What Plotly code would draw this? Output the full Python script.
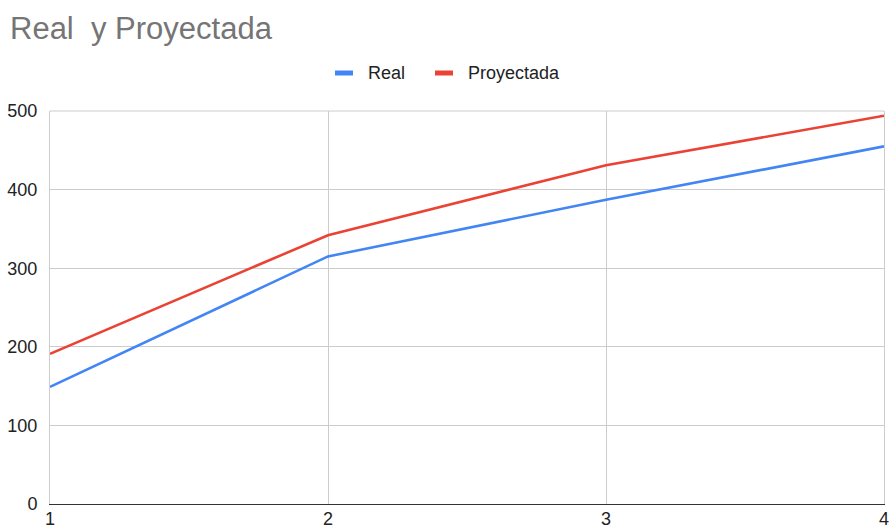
import plotly.graph_objects as go

# Series data
x_vals = [1, 2, 3, 4]
real = [149, 315, 387, 455]
proyectada = [191, 342, 431, 494]

y_ticks = [0, 100, 200, 300, 400, 500]
series_names = ["Real", "Proyectada"]

BLUE = "#4285F4"
RED = "#EA4335"
FONT = "Liberation Sans, Arial, sans-serif"

# Plot area in pixels (used to place the legend swatches in paper units)
L, R, T, B = 50, 5, 111, 25
W, H = 889, 529
PW, PH = W - L - R, H - T - B


def px_x(px):
    return (px - L) / PW


def px_y(py):
    return (H - B - py) / PH


fig = go.Figure()
fig.add_trace(go.Scatter(x=x_vals, y=real, name=series_names[0], mode="lines",
                         line=dict(color=BLUE, width=2.6)))
fig.add_trace(go.Scatter(x=x_vals, y=proyectada, name=series_names[1], mode="lines",
                         line=dict(color=RED, width=2.6)))

# Custom legend: short thick swatches followed by labels
legend_items = [(series_names[0], BLUE, 335, 366), (series_names[1], RED, 435, 466)]
for name, color, sx, tx in legend_items:
    fig.add_shape(type="rect", xref="paper", yref="paper",
                  x0=px_x(sx), x1=px_x(sx + 18), y0=px_y(75.5), y1=px_y(70.5),
                  fillcolor=color, line=dict(width=0))
    fig.add_annotation(text=name, xref="paper", yref="paper",
                       x=px_x(tx), y=px_y(73), xanchor="left", yanchor="middle",
                       showarrow=False, font=dict(family=FONT, size=18, color="#222222"))

# Top border of the plot area
fig.add_shape(type="line", xref="paper", yref="paper", x0=0, x1=1, y0=1, y1=1,
              line=dict(color="#cccccc", width=1))

fig.update_layout(
    width=W, height=H,
    margin=dict(l=L, r=R, t=T, b=B),
    paper_bgcolor="white", plot_bgcolor="white",
    font=dict(family=FONT, color="#222222"),
    title=dict(text="Real&nbsp;&nbsp;y Proyectada", x=0, xref="container", xanchor="left",
               y=1 - 28 / H, yref="container", yanchor="middle", pad=dict(l=10),
               font=dict(family=FONT, size=31, color="#757575"),
               automargin=False),
    showlegend=False,
)
fig.update_xaxes(range=[1, 4], tickvals=x_vals, ticktext=[str(v) for v in x_vals],
                 showgrid=True, gridcolor="#cccccc", gridwidth=1,
                 showline=True, linecolor="#333333", linewidth=1,
                 zeroline=False, ticks="", ticklen=0, ticklabelstandoff=-2,
                 ticklabeloverflow="allow", automargin=False,
                 tickfont=dict(size=18, color="#222222"))
fig.update_yaxes(range=[0, 500], tickvals=y_ticks,
                 showgrid=True, gridcolor="#cccccc", gridwidth=1,
                 showline=True, linecolor="#cccccc", linewidth=1, mirror=True,
                 zeroline=False, ticks="", ticklen=0, ticklabelstandoff=8, automargin=False,
                 tickfont=dict(size=18, color="#222222"))

fig.write_html("out.html")
